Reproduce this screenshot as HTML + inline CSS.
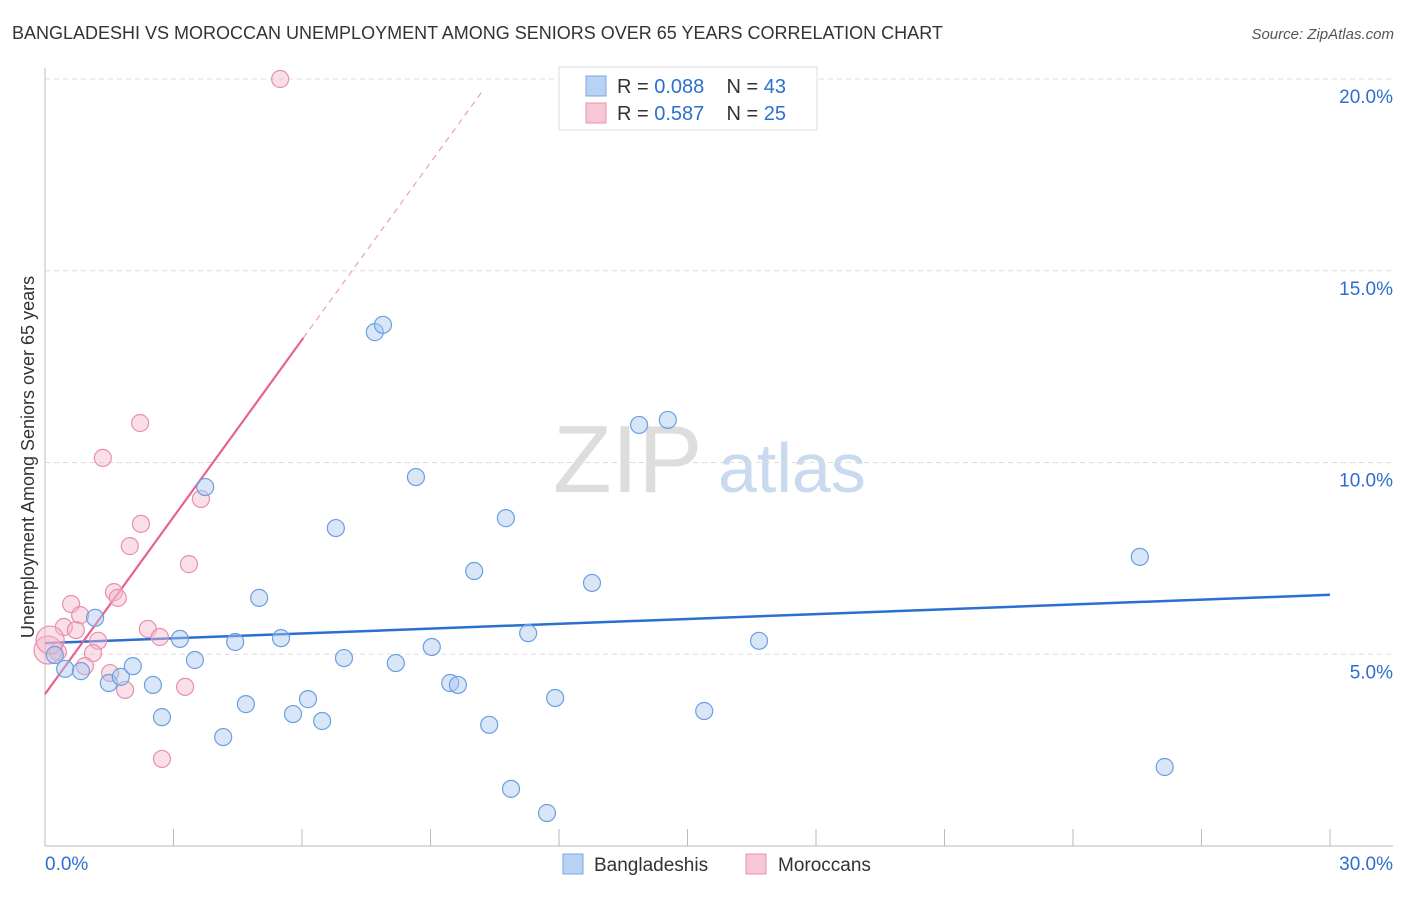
<!DOCTYPE html>
<html><head><meta charset="utf-8"><style>
body{margin:0;background:#fff;font-family:"Liberation Sans",sans-serif;}
svg text{font-family:"Liberation Sans",sans-serif;}
</style></head><body>
<svg id="chart" width="1406" height="892">
<text x="12" y="39" font-size="18" fill="#333">BANGLADESHI VS MOROCCAN UNEMPLOYMENT AMONG SENIORS OVER 65 YEARS CORRELATION CHART</text>
<text x="1394" y="39" font-size="15" fill="#555" text-anchor="end" font-style="italic">Source: ZipAtlas.com</text>
<text x="553" y="492" font-size="96" fill="#ddd" font-family="Liberation Serif">ZIP</text>
<text x="718" y="492" font-size="70" fill="#c9d9ef">atlas</text>
<text transform="translate(34,457) rotate(-90)" font-size="18" fill="#333" text-anchor="middle">Unemployment Among Seniors over 65 years</text>
<g id="grid"></g><g id="axes"></g><g id="trends"></g><g id="points"></g>
<g>
<rect x="559" y="67" width="258" height="63" fill="#fff" stroke="#ddd"/>
<rect x="586" y="76" width="20" height="20" fill="#b8d2f4" stroke="#7aa7e0"/>
<text x="617" y="93" font-size="20" fill="#333">R = <tspan fill="#2b6fd0">0.088</tspan>&#160;&#160;&#160;&#160;N = <tspan fill="#2b6fd0">43</tspan></text>
<rect x="586" y="103" width="20" height="20" fill="#f8c7d6" stroke="#e890ab"/>
<text x="617" y="120" font-size="20" fill="#333">R = <tspan fill="#2b6fd0">0.587</tspan>&#160;&#160;&#160;&#160;N = <tspan fill="#2b6fd0">25</tspan></text>
</g>
<g>
<rect x="563" y="854" width="20" height="20" fill="#b8d2f4" stroke="#7aa7e0"/>
<text x="594" y="871" font-size="19" fill="#333">Bangladeshis</text>
<rect x="746" y="854" width="20" height="20" fill="#f8c7d6" stroke="#e890ab"/>
<text x="778" y="871" font-size="19" fill="#333">Moroccans</text>
</g>
</svg>
<script>
const yTicks=[5,10,15,20];
const yTickLabels=["5.0%","10.0%","15.0%","20.0%"];
const xTickVals=[0,3,6,9,12,15,18,21,24,27,30];
const xEndLabels=["0.0%","30.0%"];
const blueX=[0.23,0.47,0.84,1.17,1.49,1.77,2.05,2.52,2.73,3.15,3.50,3.74,4.16,4.44,4.69,5.00,5.51,5.79,6.14,6.47,6.79,6.98,7.70,7.89,8.19,8.66,9.03,9.46,9.64,10.02,10.37,10.76,10.88,11.28,11.72,11.91,12.77,13.87,14.54,15.39,16.67,25.56,26.14];
const blueY=[4.98,4.62,4.56,5.95,4.25,4.41,4.69,4.20,3.36,5.40,4.85,9.36,2.84,5.32,3.70,6.47,5.42,3.44,3.83,3.26,8.29,4.90,13.40,13.59,4.77,9.62,5.19,4.25,4.20,7.17,3.16,8.55,1.49,5.55,0.86,3.86,6.86,10.98,11.11,3.52,5.35,7.54,2.06];
const pinkX=[5.49,2.22,1.35,3.64,2.24,1.98,3.36,1.61,1.70,0.61,0.82,0.44,0.72,2.40,2.68,1.24,0.30,1.12,0.93,1.52,1.87,3.27,2.73,0.07,0.12];
const pinkY=[20.0,11.03,10.12,9.05,8.40,7.82,7.35,6.62,6.47,6.31,6.02,5.71,5.63,5.66,5.45,5.35,5.06,5.03,4.69,4.51,4.07,4.15,2.27,5.11,5.37];
const blueTrend=[5.29,0.042];   // intercept, slope
const pinkTrend=[3.96,1.54];
const pinkSolidEnd=6.03, pinkDashEnd=10.2;
const NS='http://www.w3.org/2000/svg';
const xs=v=>45+v/30*1285, ys=v=>846-v*38.35;
function mk(p,tag,at){const e=document.createElementNS(NS,tag);for(const k in at)e.setAttribute(k,at[k]);p.appendChild(e);return e;}
const grid=document.getElementById('grid'),axes=document.getElementById('axes'),tr=document.getElementById('trends'),pts=document.getElementById('points');
yTicks.forEach((t,i)=>{
 const l=mk(grid,'line',{x1:45,x2:1393,y1:ys(t),y2:ys(t),stroke:'#ddd','stroke-dasharray':'5,4'});
 
 
 const tx=mk(axes,'text',{x:1393,y:ys(t)+24,'font-size':19,fill:'#2b6fd0','text-anchor':'end'});
 tx.textContent=yTickLabels[i];
 
 
});
const ya=mk(axes,'line',{x1:45,x2:45,y1:68,y2:846,stroke:'#bbb'});


const xa=mk(axes,'line',{x1:45,x2:1393,y1:846,y2:846,stroke:'#bbb'});


xTickVals.forEach(v=>{const t=mk(axes,'line',{x1:xs(v),x2:xs(v),y1:829,y2:846,stroke:'#bbb'});
 
 });
[[0,'start',45],[30,'end',1393]].forEach((a,i)=>{const t=mk(axes,'text',{x:a[2],y:870,'font-size':19,fill:'#2b6fd0','text-anchor':a[1]});t.textContent=xEndLabels[i];
 
 });
// points
function dots(X,Y,fill,stroke,name){X.forEach((x,i)=>{const big=(x<0.2);
 const c=mk(pts,'circle',{cx:xs(x),cy:ys(Y[i]),r:big?14:8.5,fill:fill,'fill-opacity':0.45,stroke:stroke,'stroke-width':1.2});
 
 });}
dots(pinkX,pinkY,'#f4b8cb','#e890ab','moroccan-point');
dots(blueX,blueY,'#a8c8f0','#6b9fe0','bangladeshi-point');
// trends
const bl=mk(tr,'line',{x1:xs(0),y1:ys(blueTrend[0]),x2:xs(30),y2:ys(blueTrend[0]+30*blueTrend[1]),stroke:'#2b6fd0','stroke-width':2.5});


const pl=mk(tr,'line',{x1:xs(0),y1:ys(pinkTrend[0]),x2:xs(pinkSolidEnd),y2:ys(pinkTrend[0]+pinkSolidEnd*pinkTrend[1]),stroke:'#e8628f','stroke-width':2.2});


const pd=mk(tr,'line',{x1:xs(pinkSolidEnd),y1:ys(pinkTrend[0]+pinkSolidEnd*pinkTrend[1]),x2:xs(pinkDashEnd),y2:ys(pinkTrend[0]+pinkDashEnd*pinkTrend[1]),stroke:'#eaa0b8','stroke-width':1.2,'stroke-dasharray':'6,5'});


</script>
</body></html>
